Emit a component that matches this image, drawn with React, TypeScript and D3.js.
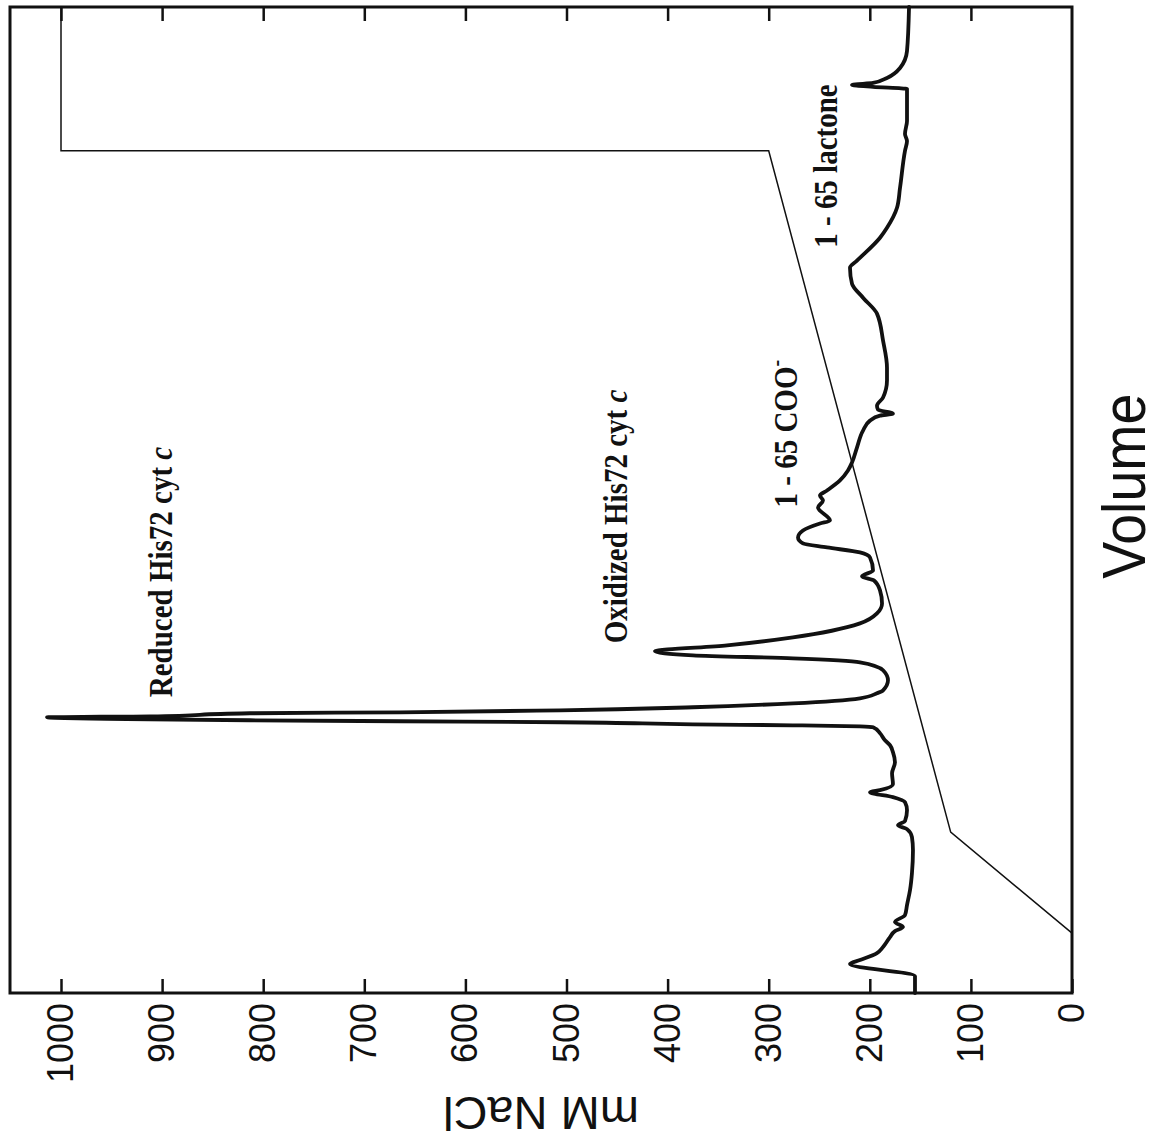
import React, { useEffect, useRef } from 'react';
import * as d3 from 'd3';

// Elution volume (arbitrary units, 0-100) and absorbance trace plotted on the mM NaCl scale
const traceVolume = [
  0, 1.72, 2.94, 3.34, 4.05, 4.66, 5.67, 6.28, 6.69, 7.19, 7.9, 8.92, 10.44, 12.16, 14.49,
  15.81, 16.62, 17.02, 17.43, 18.54, 19.35, 19.86, 20.36, 20.57, 21.18, 22.29, 23.4, 24.42,
  25.13, 25.63, 26.34, 26.95, 27.05, 27.15, 27.25, 27.46, 27.56, 27.66, 27.76, 27.96, 28.06,
  28.37, 28.47, 28.67, 28.98, 29.38, 29.89, 30.4, 30.7, 31.71, 32.73, 33.54, 33.94, 34.25,
  34.65, 35.26, 36.07, 37.49, 38.5, 39.51, 40.83, 41.84, 42.25, 42.86, 44.17, 44.68, 45.19,
  45.59, 46.2, 46.91, 47.62, 47.92, 49.24, 49.95, 50.46, 50.96, 51.98, 52.99, 53.8, 55.32,
  57.04, 58.05, 58.56, 58.76, 59.17, 59.57, 60.39, 62.11, 63.42, 66.16, 68.9, 70.52, 71.94,
  73.56, 74.27, 76.6, 77.61, 79.64, 81.66, 85.41, 86.42, 87.13, 88.45, 91.69, 91.9, 92.1,
  92.3, 92.81, 93.82, 95.54, 100,
];
const traceSignal = [
  155.3, 155.3, 219.6, 209.7, 192.9, 186.9, 180.0, 175.1, 167.2, 175.1, 165.2, 163.2, 160.2, 158.3, 157.3,
  158.3, 163.2, 172.1, 165.2, 163.2, 165.2, 177.1, 199.8, 189.9, 177.1, 178.0, 175.1, 177.1,
  180.0, 185.0, 189.9, 196.8, 209.7, 276.0, 374.9, 506.4, 664.7, 813.1, 912.0, 1013.8, 912.0,
  813.1, 664.7, 506.4, 374.9, 276.0, 209.7, 192.9, 186.9, 182.0, 186.9, 209.7, 276.0, 374.9,
  412.5, 341.2, 276.0, 209.7, 192.9, 187.9, 189.9, 195.8, 207.7, 196.8, 199.8, 209.7, 242.3,
  266.1, 271.0, 266.1, 249.3, 239.4, 251.2, 246.3, 249.3, 242.3, 229.5, 221.6, 217.6, 212.7,
  206.7, 199.8, 189.9, 177.1, 191.9, 192.9, 186.9, 183.0, 183.0, 186.9, 192.9, 206.7, 217.6,
  219.6, 212.7, 189.9, 183.0, 173.1, 170.1, 165.2, 163.2, 165.2, 163.2, 163.2, 196.8, 217.6,
  196.8, 183.0, 170.1, 163.2, 161.2,
];

// Salt gradient program
const gradientVolume = [0, 6.08, 16.31, 85.41, 85.41, 100];
const gradientNaCl = [0, 0, 120, 300, 1000, 1000];

// Axis ticks
const naclTicks = [0, 100, 200, 300, 400, 500, 600, 700, 800, 900, 1000];

// Peak annotations
const peakNames = ['Reduced His72 cyt ', 'Oxidized His72 cyt ', '1 - 65 COO', '1 - 65 lactone'];
const peakSuffix = ['c', 'c', '-', ''];
const peakVolumes = [29.99, 35.46, 49.24, 75.58];
const peakNaCl = [890, 440, 272, 232];

export default function App() {
  const ref = useRef<SVGSVGElement>(null);

  useEffect(() => {
    const svg = d3.select(ref.current);
    svg.selectAll('*').remove();

    const W = 986;
    const H = 1062;
    const ink = '#111';
    const sans = '"Liberation Sans", Arial, Helvetica, sans-serif';
    const serif = '"Liberation Serif", "Times New Roman", Times, serif';

    // Chart is laid out upright, then turned a quarter turn counter-clockwise
    const g = svg.append('g').attr('transform', 'translate(10,993) rotate(-90)');

    const x = d3.scaleLinear().domain([0, 100]).range([0, W]);
    const y = d3.scaleLinear().domain([0, 1000]).range([H, 51]);

    // NaCl axis with inward ticks and labels
    const left = g
      .append('g')
      .call(
        d3
          .axisLeft(y)
          .tickValues(naclTicks)
          .tickSize(-14)
          .tickPadding(10)
          .tickFormat(d3.format('d'))
      );
    left.select('.domain').remove();
    left.selectAll('line').attr('stroke', ink).attr('stroke-width', 2.5);
    left
      .selectAll('text')
      .attr('font-family', sans)
      .attr('font-size', 36)
      .attr('fill', ink);

    // Mirrored ticks on the opposite side
    const right = g
      .append('g')
      .attr('transform', `translate(${W},0)`)
      .call(
        d3
          .axisRight(y)
          .tickValues(naclTicks.filter((t) => t > 0))
          .tickSize(-14)
          .tickFormat(() => '')
      );
    right.select('.domain').remove();
    right.selectAll('line').attr('stroke', ink).attr('stroke-width', 2.5);

    // Frame
    g.append('rect')
      .attr('width', W)
      .attr('height', H)
      .attr('fill', 'none')
      .attr('stroke', ink)
      .attr('stroke-width', 3);

    // Gradient
    const gradPts = gradientVolume.map((v, i) => [v, gradientNaCl[i]] as [number, number]);
    g.append('path')
      .attr(
        'd',
        d3
          .line<[number, number]>()
          .x((d) => x(d[0]))
          .y((d) => y(d[1]))(gradPts)
      )
      .attr('fill', 'none')
      .attr('stroke', ink)
      .attr('stroke-width', 1.5);

    // Elution trace
    const tracePts = traceVolume.map((v, i) => [v, traceSignal[i]] as [number, number]);
    g.append('path')
      .attr(
        'd',
        d3
          .line<[number, number]>()
          .x((d) => x(d[0]))
          .y((d) => y(d[1]))
          .curve(d3.curveMonotoneX)(tracePts)
      )
      .attr('fill', 'none')
      .attr('stroke', ink)
      .attr('stroke-width', 3.8)
      .attr('stroke-linejoin', 'round')
      .attr('stroke-linecap', 'round');

    // Peak labels
    peakNames.forEach((name, i) => {
      const t = g
        .append('text')
        .attr('transform', `translate(${x(peakVolumes[i])},${y(peakNaCl[i])}) scale(1,1.15)`)
        .attr('font-family', serif)
        .attr('font-weight', 'bold')
        .attr('font-size', 29)
        .attr('fill', ink)
        .text(name);
      if (peakSuffix[i] === 'c') {
        t.append('tspan').attr('font-style', 'italic').text('c');
      } else if (peakSuffix[i] === '-') {
        t.append('tspan').attr('dy', -11).attr('font-size', 20).text('-');
      }
    });

    // Axis titles
    g.append('text')
      .attr('transform', `translate(-104,${H / 2}) rotate(-90)`)
      .attr('text-anchor', 'middle')
      .attr('font-family', sans)
      .attr('font-size', 47)
      .attr('fill', ink)
      .text('mM NaCl');

    g.append('text')
      .attr('x', x(51.4))
      .attr('y', 1135)
      .attr('text-anchor', 'middle')
      .attr('font-family', sans)
      .attr('font-size', 62)
      .attr('textLength', 185)
      .attr('lengthAdjust', 'spacingAndGlyphs')
      .attr('fill', ink)
      .text('Volume');
  }, []);

  return (
    <svg
      ref={ref}
      width={1159}
      height={1141}
      style={{ position: 'absolute', left: 0, top: 0, background: '#fff' }}
    />
  );
}
